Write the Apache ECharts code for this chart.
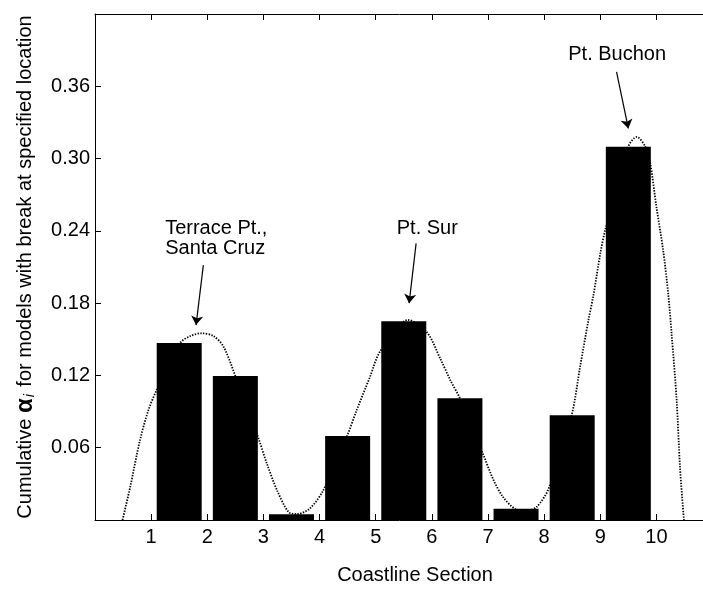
<!DOCTYPE html>
<html><head><meta charset="utf-8">
<script src="https://cdn.jsdelivr.net/npm/echarts@6/dist/echarts.min.js"></script>
<style>html,body{margin:0;padding:0;background:#fff}#c{width:703px;height:589px}</style>
</head><body><div id="c"></div>
<script>
// ---- data ----
const xTickLabels = [1, 2, 3, 4, 5, 6, 7, 8, 9, 10];
const yTickLabels = [0.06, 0.12, 0.18, 0.24, 0.30, 0.36];
const sectionCenters = [1.5, 2.5, 3.5, 4.5, 5.5, 6.5, 7.5, 8.5, 9.5];
const barValues = [0.147, 0.1195, 0.0047, 0.0697, 0.165, 0.101, 0.0094, 0.0869, 0.3098];
// dotted curve
const curveX = [0.49, 0.63, 0.80, 0.95, 1.10, 1.52, 1.70, 1.90, 2.11, 2.29, 2.50, 2.91, 3.06, 3.24, 3.45, 3.60, 3.83, 4.07, 4.49, 4.66, 4.90, 5.08, 5.58, 5.91, 6.15, 6.33, 6.50, 6.91, 7.10, 7.27, 7.48, 7.70, 7.87, 8.08, 8.49, 8.64, 8.79, 8.88, 9.00, 9.09, 9.50, 9.65, 9.80, 9.89, 10.00, 10.12, 10.21, 10.27, 10.36, 10.42, 10.49];
const curveY = [0, 0.028, 0.066, 0.091, 0.108, 0.147, 0.1527, 0.155, 0.1527, 0.1438, 0.1195, 0.068, 0.047, 0.025, 0.0065, 0.005, 0.0097, 0.025, 0.0697, 0.091, 0.119, 0.140, 0.166, 0.156, 0.134, 0.116, 0.101, 0.055, 0.033, 0.019, 0.0094, 0.008, 0.011, 0.026, 0.087, 0.127, 0.166, 0.187, 0.221, 0.241, 0.310, 0.318, 0.310, 0.296, 0.26, 0.224, 0.188, 0.155, 0.100, 0.044, 0];
// annotations: label text, text anchor (data coords, top-left), arrow start, arrow end
const annoText = ['Terrace Pt.,\nSanta Cruz', 'Pt. Sur', 'Pt. Buchon'];
const annoTextPos = [[1.25, 0.2506], [5.375, 0.2506], [8.43, 0.3946]];
const annoArrowFrom = [[1.93, 0.2116], [5.72, 0.2296], [9.29, 0.372]];
const annoArrowTo = [[1.80, 0.1618], [5.595, 0.180], [9.50, 0.325]];

const FONT = '"Liberation Sans", Arial, Helvetica, sans-serif';
const X_MIN = 0, X_MAX = 11.4, Y_MIN = 0, Y_MAX = 0.42;

const chart = echarts.init(document.getElementById('c'), null, {renderer: 'canvas'});

const barData = sectionCenters.map((x, i) => [x, barValues[i]]);
const curveData = curveX.map((x, i) => [x, curveY[i]]);
const arrows = annoArrowFrom.map((p, i) => [{coord: p}, {coord: annoArrowTo[i]}]);

const axisCommon = {
  axisLine: {show: true, lineStyle: {color: '#000', width: 1}},
  axisTick: {show: true, inside: true, length: 6, lineStyle: {color: '#000', width: 1}},
  splitLine: {show: false}
};

const option = {
  animation: false,
  backgroundColor: '#fff',
  grid: {left: 95, top: 14, right: -32, bottom: 69, containLabel: false, outerBoundsMode: 'none'},
  xAxis: [
    Object.assign({
      type: 'value', min: X_MIN, max: X_MAX, interval: 1, position: 'bottom',
      axisLabel: {margin: 7, fontSize: 20, color: '#000', fontFamily: FONT,
        formatter: v => xTickLabels.includes(v) ? String(v) : ''},
      name: 'Coastline Section', nameLocation: 'middle', nameGap: 45,
      nameTextStyle: {fontSize: 20, color: '#000', fontFamily: FONT}
    }, axisCommon),
    Object.assign({
      type: 'value', min: X_MIN, max: X_MAX, interval: 1, position: 'top',
      axisLabel: {show: false}
    }, axisCommon)
  ],
  yAxis: [
    Object.assign({
      type: 'value', min: Y_MIN, max: Y_MAX, interval: 0.06, position: 'left',
      axisLabel: {margin: 5, fontSize: 20, color: '#000', fontFamily: FONT,
        formatter: v => yTickLabels.some(t => Math.abs(t - v) < 1e-9) ? v.toFixed(2) : ''},
      name: '{n|Cumulative }{a|α}{s|i}{n| for models with break at specified location}',
      nameLocation: 'middle', nameGap: 58,
      nameTextStyle: {color: '#000', fontFamily: FONT, fontSize: 20,
        rich: {
          n: {fontSize: 20, fontFamily: FONT, color: '#000'},
          a: {fontSize: 24, fontWeight: 'bold', fontFamily: FONT, color: '#000'},
          s: {fontSize: 14, fontStyle: 'italic', fontFamily: FONT, color: '#000', padding: [10, 2, 0, 1]}
        }}
    }, axisCommon)
  ],
  series: [
    {
      type: 'line', data: curveData, xAxisIndex: 0, yAxisIndex: 0,
      showSymbol: false, smooth: 0.3, z: 2, silent: true,
      lineStyle: {color: '#000', width: 1.8, type: [1.4, 1.4]},
      markLine: {
        silent: true, symbol: ['none', 'arrow'], symbolSize: 9,
        label: {show: false},
        lineStyle: {color: '#000', width: 1.2, type: 'solid'},
        data: arrows
      }
    },
    {
      type: 'bar', data: barData, xAxisIndex: 0, yAxisIndex: 0,
      barWidth: 45, z: 3, silent: true,
      itemStyle: {color: '#000'}
    }
  ]
};
chart.setOption(option);

const texts = annoText.map((t, i) => {
  const p = chart.convertToPixel({gridIndex: 0}, annoTextPos[i]);
  return {
    type: 'text', x: p[0], y: p[1], z: 10,
    style: {text: t, font: '20px ' + FONT, fill: '#000', lineHeight: 20,
      textAlign: 'left', textVerticalAlign: 'top'}
  };
});
chart.setOption({graphic: texts});
</script>
</body></html>
